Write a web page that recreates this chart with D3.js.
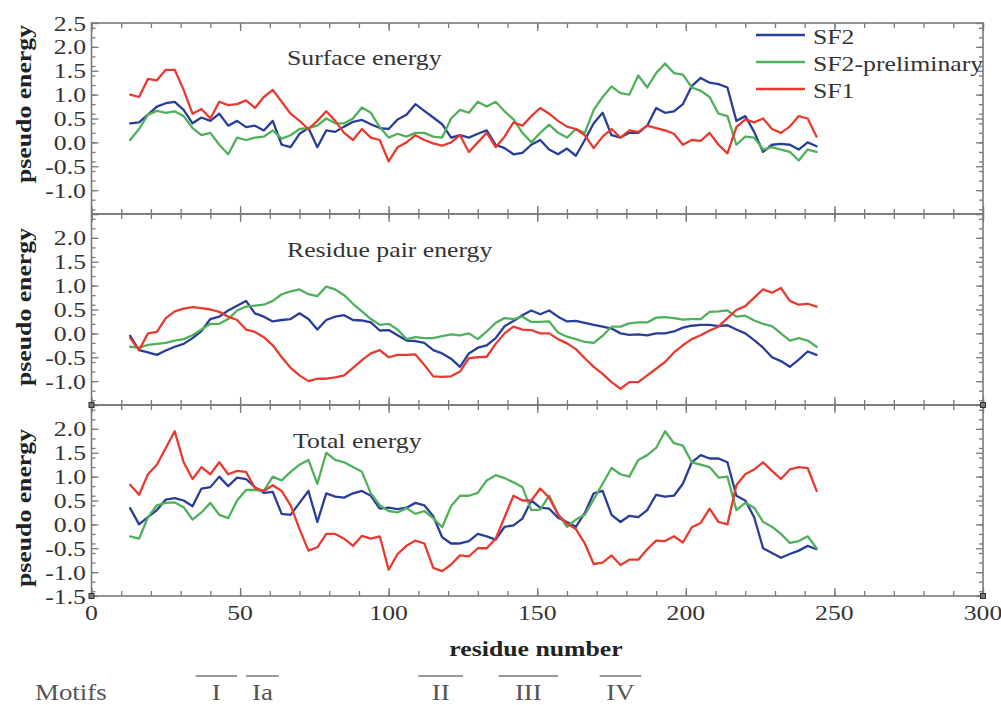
<!DOCTYPE html>
<html><head><meta charset="utf-8">
<script src="https://cdn.jsdelivr.net/npm/d3@7"></script>
<style>
body{margin:0;background:#fff;}
svg{display:block;font-family:"Liberation Serif","Times New Roman",serif;}
</style></head>
<body><svg id="c" width="1001" height="705"></svg>
<script>
// residue numbers (x values)
const residues = [13,16,19,22,25,28,31,34,37,40,43,46,49,52,55,58,61,64,67,70,73,76,79,
82,85,88,91,94,97,100,103,106,109,112,115,118,121,124,127,130,133,136,139,142,145,148,151,154,157,160,163,166,169,172,175,178,181,184,187,190,
193,196,199,202,205,208,211,214,217,220,223,226,229,232,235,238,241,244];

const seriesNames = ["SF2","SF2-preliminary","SF1"];
const panelTitles = ["Surface energy","Residue pair energy","Total energy"];

// Surface energy
const surfaceSF2 = [0.40,0.42,0.58,0.75,0.82,0.85,0.68,0.40,0.52,0.45,0.60,0.35,0.45,0.32,0.35,0.25,0.45,-0.05,-0.10,0.18,0.30,-0.10,0.25,
0.22,0.33,0.43,0.47,0.38,0.30,0.28,0.48,0.58,0.80,0.66,0.52,0.38,0.10,0.15,0.10,0.18,0.25,-0.05,-0.12,-0.25,-0.22,-0.05,0.05,-0.15,-0.25,-0.13,-0.28,0.05,0.40,0.62,0.15,0.10,0.20,0.20,0.35,0.72,
0.62,0.65,0.80,1.18,1.35,1.25,1.22,1.15,0.45,0.55,0.22,-0.20,-0.05,-0.03,-0.05,-0.15,0.00,-0.08];
const surfaceSF2pre = [0.05,0.28,0.58,0.66,0.62,0.65,0.55,0.30,0.15,0.20,-0.05,-0.25,0.10,0.05,0.10,0.12,0.25,0.08,0.15,0.28,0.30,0.35,0.50,
0.40,0.40,0.50,0.73,0.62,0.32,0.10,0.18,0.12,0.20,0.20,0.12,0.10,0.50,0.68,0.62,0.85,0.75,0.85,0.65,0.48,0.20,0.00,0.20,0.37,0.20,0.10,0.28,0.20,0.68,0.95,1.17,1.03,1.00,1.40,1.15,1.45,
1.65,1.45,1.42,1.15,1.08,0.95,0.60,0.55,-0.05,0.12,0.10,-0.15,-0.10,-0.15,-0.20,-0.38,-0.15,-0.20];
const surfaceSF1 = [1.00,0.95,1.33,1.30,1.52,1.52,1.10,0.60,0.70,0.50,0.85,0.78,0.80,0.88,0.72,0.95,1.10,0.85,0.60,0.45,0.28,0.45,0.65,
0.45,0.20,0.05,0.28,0.10,0.05,-0.40,-0.10,0.00,0.15,0.05,-0.02,-0.07,0.00,0.15,-0.20,0.00,0.20,-0.10,0.12,0.42,0.35,0.55,0.72,0.60,0.45,0.33,0.28,0.15,-0.12,0.12,0.28,0.10,0.25,0.22,0.35,0.30,
0.25,0.18,-0.05,0.05,0.03,0.20,-0.05,-0.23,0.32,0.48,0.42,0.50,0.28,0.20,0.33,0.55,0.50,0.12];

// Residue pair energy
const pairSF2 = [-0.05,-0.35,-0.40,-0.45,-0.36,-0.28,-0.22,-0.10,0.05,0.30,0.35,0.48,0.58,0.68,0.42,0.35,0.25,0.28,0.30,0.42,0.30,0.08,0.28,
0.35,0.38,0.28,0.27,0.23,0.06,0.07,-0.04,-0.15,-0.16,-0.20,-0.35,-0.42,-0.53,-0.70,-0.42,-0.30,-0.25,-0.10,0.15,0.26,0.38,0.48,0.40,0.48,0.35,0.25,0.26,0.22,0.18,0.14,0.10,0.00,-0.03,-0.02,-0.04,0.00,
0.00,0.04,0.12,0.16,0.18,0.18,0.15,0.17,0.08,0.00,-0.14,-0.30,-0.50,-0.58,-0.70,-0.55,-0.38,-0.45];
const pairSF2pre = [-0.28,-0.30,-0.24,-0.22,-0.20,-0.15,-0.12,-0.04,0.08,0.20,0.20,0.30,0.48,0.56,0.58,0.60,0.68,0.82,0.88,0.92,0.82,0.78,0.98,
0.92,0.80,0.62,0.46,0.30,0.18,0.20,0.08,-0.12,-0.08,-0.10,-0.10,-0.06,-0.02,-0.04,0.00,-0.12,0.04,0.22,0.32,0.30,0.35,0.24,0.24,0.25,0.02,-0.07,-0.12,-0.18,-0.20,-0.05,0.14,0.14,0.21,0.23,0.23,0.33,
0.34,0.32,0.29,0.30,0.30,0.45,0.46,0.48,0.35,0.37,0.27,0.20,0.15,0.00,-0.15,-0.10,-0.15,-0.28];
const pairSF1 = [-0.10,-0.35,0.00,0.03,0.32,0.46,0.52,0.55,0.53,0.50,0.45,0.35,0.28,0.08,0.03,-0.08,-0.25,-0.50,-0.72,-0.88,-1.00,-0.95,-0.95,
-0.92,-0.88,-0.72,-0.56,-0.42,-0.35,-0.50,-0.45,-0.45,-0.44,-0.66,-0.90,-0.91,-0.90,-0.80,-0.52,-0.50,-0.49,-0.22,0.00,0.14,0.08,0.07,0.00,0.00,-0.12,-0.21,-0.33,-0.52,-0.70,-0.85,-1.02,-1.16,-1.02,-1.02,-0.88,-0.74,
-0.60,-0.40,-0.25,-0.12,-0.04,0.06,0.14,0.32,0.49,0.57,0.75,0.92,0.85,0.95,0.68,0.60,0.62,0.56];

// Total energy
const totalSF2 = [0.34,0.00,0.15,0.30,0.52,0.55,0.50,0.38,0.75,0.78,1.00,0.80,0.98,0.95,0.78,0.66,0.68,0.22,0.20,0.45,0.70,0.05,0.65,
0.58,0.56,0.65,0.70,0.60,0.33,0.35,0.32,0.35,0.45,0.40,0.17,-0.27,-0.40,-0.40,-0.35,-0.20,-0.25,-0.32,-0.05,-0.02,0.12,0.50,0.35,0.33,0.14,0.05,-0.05,0.24,0.65,0.70,0.20,0.05,0.18,0.15,0.30,0.62,
0.58,0.60,0.85,1.30,1.45,1.38,1.38,1.30,0.60,0.50,0.15,-0.50,-0.60,-0.70,-0.62,-0.55,-0.45,-0.52];
const totalSF2pre = [-0.25,-0.30,0.15,0.40,0.45,0.46,0.36,0.10,0.25,0.45,0.20,0.13,0.50,0.72,0.72,0.70,1.00,0.92,1.10,1.25,1.35,0.85,1.50,
1.35,1.30,1.20,1.10,0.65,0.40,0.28,0.25,0.34,0.22,0.28,0.13,-0.06,0.38,0.60,0.60,0.66,0.92,1.03,0.97,0.88,0.78,0.30,0.31,0.60,0.22,-0.05,0.10,0.20,0.52,0.85,1.18,1.05,1.00,1.35,1.45,1.60,
1.95,1.70,1.65,1.30,1.25,1.20,0.98,1.00,0.30,0.45,0.35,0.05,-0.05,-0.20,-0.39,-0.35,-0.25,-0.50];
const totalSF1 = [0.83,0.62,1.05,1.25,1.60,1.95,1.30,0.95,1.20,1.05,1.30,1.05,1.12,1.10,0.76,0.70,0.82,0.70,0.40,-0.10,-0.55,-0.48,-0.20,
-0.20,-0.30,-0.45,-0.24,-0.30,-0.25,-0.95,-0.62,-0.45,-0.34,-0.40,-0.91,-0.98,-0.84,-0.65,-0.67,-0.50,-0.50,-0.30,0.15,0.60,0.50,0.50,0.75,0.56,0.20,0.02,-0.10,-0.40,-0.83,-0.80,-0.65,-0.85,-0.74,-0.74,-0.52,-0.34,
-0.35,-0.25,-0.38,-0.06,0.03,0.33,0.05,0.00,0.82,1.05,1.15,1.30,1.12,0.95,1.15,1.20,1.18,0.70];

// tick labels
const yTickLabelsTop = [2.5,2.0,1.5,1.0,0.5,0.0,-0.5,-1.0];
const yTickLabelsMid = [2.0,1.5,1.0,0.5,0.0,-0.5,-1.0];
const yTickLabelsBot = [2.0,1.5,1.0,0.5,0.0,-0.5,-1.0,-1.5];
const xTickLabels = [0,50,100,150,200,250,300];

// motifs
const motifNames = ["I","Ia","II","III","IV"];
const motifStart = [35,52,110,137,171];
const motifEnd = [49,63,125,157,185];

// ---------- drawing ----------
const colors = ["#293e99","#50b05b","#e73b2f"];
const svg = d3.select("#c");
const SX = 1.17;               // horizontal glyph stretch of the original typesetting
const FS = 22;
const axisColor = "#7a7a7a";
const textColor = "#333";

const x = d3.scaleLinear().domain([0,300]).range([91.5,983]);
const panelTop = [23,214,405];
const panelH = 191;
const panelData = [
  [surfaceSF2, surfaceSF2pre, surfaceSF1],
  [pairSF2, pairSF2pre, pairSF1],
  [totalSF2, totalSF2pre, totalSF1]
];
const panelLabels = [yTickLabelsTop, yTickLabelsMid, yTickLabelsBot];
const titlePos = [[287,65],[287,257],[293,448]];
const ylabCenter = [104,307,508];

function stretchedText(g, tx, ty, str, anchor, opts={}) {
  return g.append("text")
    .attr("transform", `translate(${tx},${ty}) scale(${opts.sx||SX},1)`)
    .attr("text-anchor", anchor)
    .attr("font-size", opts.fs||FS)
    .attr("font-weight", opts.bold?"bold":"normal")
    .attr("fill", opts.fill||textColor)
    .text(str);
}

panelData.forEach((series, i) => {
  const top = panelTop[i], bot = top + panelH;
  const y = d3.scaleLinear().domain([-1.5,2.5]).range([bot, top]);
  const g = svg.append("g");

  // lines
  const line = d3.line().x((d,j) => x(residues[j])).y(d => y(d));
  series.forEach((vals,k) => {
    g.append("path").attr("d", line(vals))
      .attr("fill","none").attr("stroke", colors[k])
      .attr("stroke-width", 2.3).attr("stroke-linejoin","round").attr("stroke-linecap","round");
  });

  // ticks (inward on all four sides)
  const styleAxis = a => { a.select(".domain").remove(); a.selectAll("line").attr("stroke", axisColor).attr("stroke-width",1.3); a.selectAll("text").remove(); };
  const minorX = x.ticks(30), majorX = x.ticks(6);
  const minorY = y.ticks(16), majorY = y.ticks(8);
  g.append("g").attr("transform",`translate(0,${bot})`).call(d3.axisBottom(x).tickValues(minorX).tickSize(-5)).call(styleAxis);
  g.append("g").attr("transform",`translate(0,${bot})`).call(d3.axisBottom(x).tickValues(majorX).tickSize(-8)).call(styleAxis);
  g.append("g").attr("transform",`translate(0,${top})`).call(d3.axisTop(x).tickValues(minorX).tickSize(-5)).call(styleAxis);
  g.append("g").attr("transform",`translate(0,${top})`).call(d3.axisTop(x).tickValues(majorX).tickSize(-8)).call(styleAxis);
  g.append("g").attr("transform",`translate(${x(0)},0)`).call(d3.axisLeft(y).tickValues(minorY).tickSize(-4)).call(styleAxis);
  g.append("g").attr("transform",`translate(${x(0)},0)`).call(d3.axisLeft(y).tickValues(majorY).tickSize(-7)).call(styleAxis);
  g.append("g").attr("transform",`translate(${x(300)},0)`).call(d3.axisRight(y).tickValues(minorY).tickSize(-4)).call(styleAxis);
  g.append("g").attr("transform",`translate(${x(300)},0)`).call(d3.axisRight(y).tickValues(majorY).tickSize(-7)).call(styleAxis);

  // border
  g.append("rect").attr("x", x(0)).attr("y", top).attr("width", x(300)-x(0)).attr("height", panelH)
    .attr("fill","none").attr("stroke", axisColor).attr("stroke-width",1.6);

  // y tick labels
  panelLabels[i].forEach(v => stretchedText(g, x(0)-5.5, y(v)+7.5, v.toFixed(1), "end"));

  // title
  stretchedText(g, titlePos[i][0], titlePos[i][1], panelTitles[i], "start");

  // y axis label
  g.append("text")
    .attr("transform", `translate(31,${ylabCenter[i]}) rotate(-90)`)
    .attr("text-anchor","middle").attr("font-size",FS).attr("font-weight","bold")
    .attr("fill","#222")
    .attr("textLength",158).attr("lengthAdjust","spacingAndGlyphs")
    .text("pseudo energy");
});

// corner markers
[[x(0),405],[x(300),405],[x(0),596],[x(300),596]].forEach(p => {
  svg.append("rect").attr("x",p[0]-2.5).attr("y",p[1]-2.5).attr("width",5).attr("height",5)
    .attr("fill","#777").attr("stroke","#333").attr("stroke-width",1);
});

// x tick labels
xTickLabels.forEach(v => stretchedText(svg, x(v), 620, String(v), "middle"));

// x axis title
stretchedText(svg, 536, 656, "residue number", "middle", {bold:true, fill:"#222"});

// legend
const legendY = [35,62,89];
seriesNames.forEach((n,k) => {
  svg.append("line").attr("x1",756).attr("x2",805).attr("y1",legendY[k]).attr("y2",legendY[k])
    .attr("stroke",colors[k]).attr("stroke-width",2.3);
  stretchedText(svg, 813, legendY[k]+8.5, n, "start");
});

// motifs
stretchedText(svg, 35, 700, "Motifs", "start", {fs:23, fill:"#555"});
motifNames.forEach((m,k) => {
  svg.append("line").attr("x1", x(motifStart[k])).attr("x2", x(motifEnd[k]))
    .attr("y1", 676).attr("y2", 676).attr("stroke","#777").attr("stroke-width",1.5);
  stretchedText(svg, (x(motifStart[k])+x(motifEnd[k]))/2, 700, m, "middle", {fs:23, fill:"#555"});
});
</script>
</body></html>
